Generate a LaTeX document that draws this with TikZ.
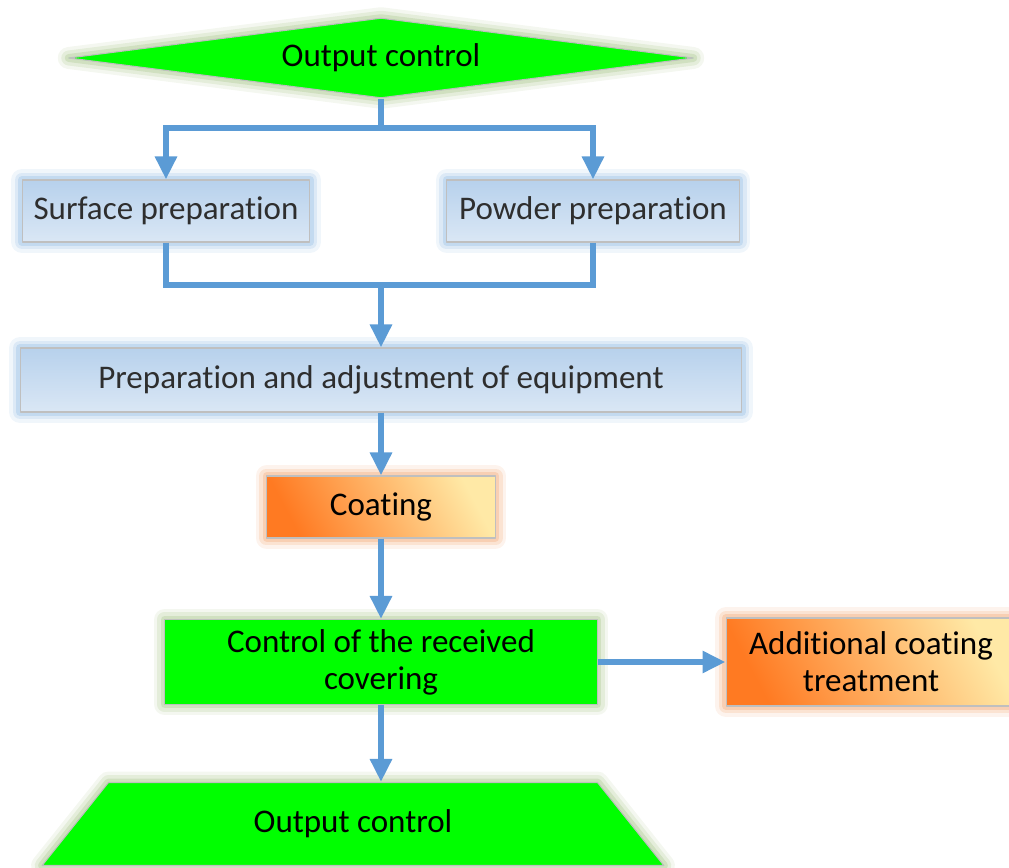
\documentclass[tikz,border=0pt]{standalone}
\usepackage{fontspec}
\setmainfont{Carlito}[Ligatures=NoCommon]
\usetikzlibrary{arrows.meta,positioning,shapes.geometric,calc}

\definecolor{flowblue}{HTML}{5B9BD5}
\definecolor{boxgreen}{HTML}{00FF00}
\definecolor{greenglow}{HTML}{B3CC98}
\definecolor{blueglow}{HTML}{9DC3E6}
\definecolor{orangeglow}{HTML}{F4B183}
\definecolor{rimgrey}{HTML}{BFBFBF}
\definecolor{bluetop}{HTML}{B7D1EC}
\definecolor{bluebot}{HTML}{DAE7F5}
\definecolor{deeporange}{HTML}{FF7A22}
\definecolor{gold}{HTML}{FFC000}
\definecolor{paleyellow}{HTML}{FFE9A6}
\definecolor{textgrey}{HTML}{2E2E2E}

\begin{document}
\begin{tikzpicture}[
  x=0.02cm, y=-0.02cm,
  >={Triangle[length=4.6mm,width=4.2mm]},
  font=\fontsize{18.8}{21}\selectfont,
  glow/.style={line join=round,
    preaction={draw=#1,line width=4.4mm,opacity=.15},
    preaction={draw=#1,line width=3mm,opacity=.25},
    preaction={draw=#1,line width=1.6mm,opacity=.4}},
  greenbox/.style={glow=greenglow,draw=rimgrey,line width=0.6pt,fill=boxgreen,align=center},
  bluebox/.style={glow=blueglow,draw=rimgrey,line width=0.6pt,top color=bluetop,bottom color=bluebot,text=textgrey},
  orangebox/.style={glow=orangeglow,draw=rimgrey,line width=0.6pt,left color=deeporange,middle color=gold,right color=paleyellow,shading angle=118,align=center},
  flow/.style={draw=flowblue,line width=1.15mm}
]
\useasboundingbox (0,0) rectangle (1009,868);

% -------------------------
% Geometry
% -------------------------
\def\xMain{381}
\def\ySplit{128}
\def\yJoin{285}

% -------------------------
% Nodes
% -------------------------
\node[greenbox,diamond,aspect=8,minimum width=12.5cm,minimum height=1.6cm] (start) at (\xMain,58) {Output control};

\node[bluebox,minimum width=5.76cm,minimum height=1.24cm] (surf) at (166,211) {Surface preparation};
\node[bluebox,minimum width=5.86cm,minimum height=1.24cm] (powd) at (593,211) {Powder preparation};

\node[bluebox,minimum width=14.44cm,minimum height=1.28cm] (prep) at (\xMain,380) {Preparation and adjustment of equipment};

\node[orangebox,minimum width=4.58cm,minimum height=1.24cm] (coat) at (\xMain,507) {Coating};

\node[greenbox,minimum width=8.66cm,minimum height=1.7cm] (ctrl) at (\xMain,662) {Control of the received\\covering};
\node[orangebox,minimum width=5.8cm,minimum height=1.76cm] (addl) at (871,662) {Additional coating\\treatment};

\node[greenbox,trapezium,trapezium angle=54.5,trapezium stretches=true,
      minimum width=12.45cm,minimum height=1.66cm] (done) at (353,824) {Output control};

% -------------------------
% Connectors
% -------------------------
\coordinate (split) at (\xMain,\ySplit);
\coordinate (join) at (\xMain,\yJoin);

\draw[flow] (start.south) -- (split);
\draw[flow,->] (split) -| (surf.north);
\draw[flow,->] (split) -| (powd.north);

\draw[flow] (surf.south) |- (join);
\draw[flow] (powd.south) |- (join);
\draw[flow,->] (join) -- (prep.north);

\draw[flow,->] (prep.south) -- (coat.north);
\draw[flow,->] (coat.south) -- (ctrl.north);
\draw[flow,->] (ctrl.east) -- (addl.west);
\draw[flow,->] (ctrl.south) -- (ctrl.south |- done.north);

\end{tikzpicture}
\end{document}
